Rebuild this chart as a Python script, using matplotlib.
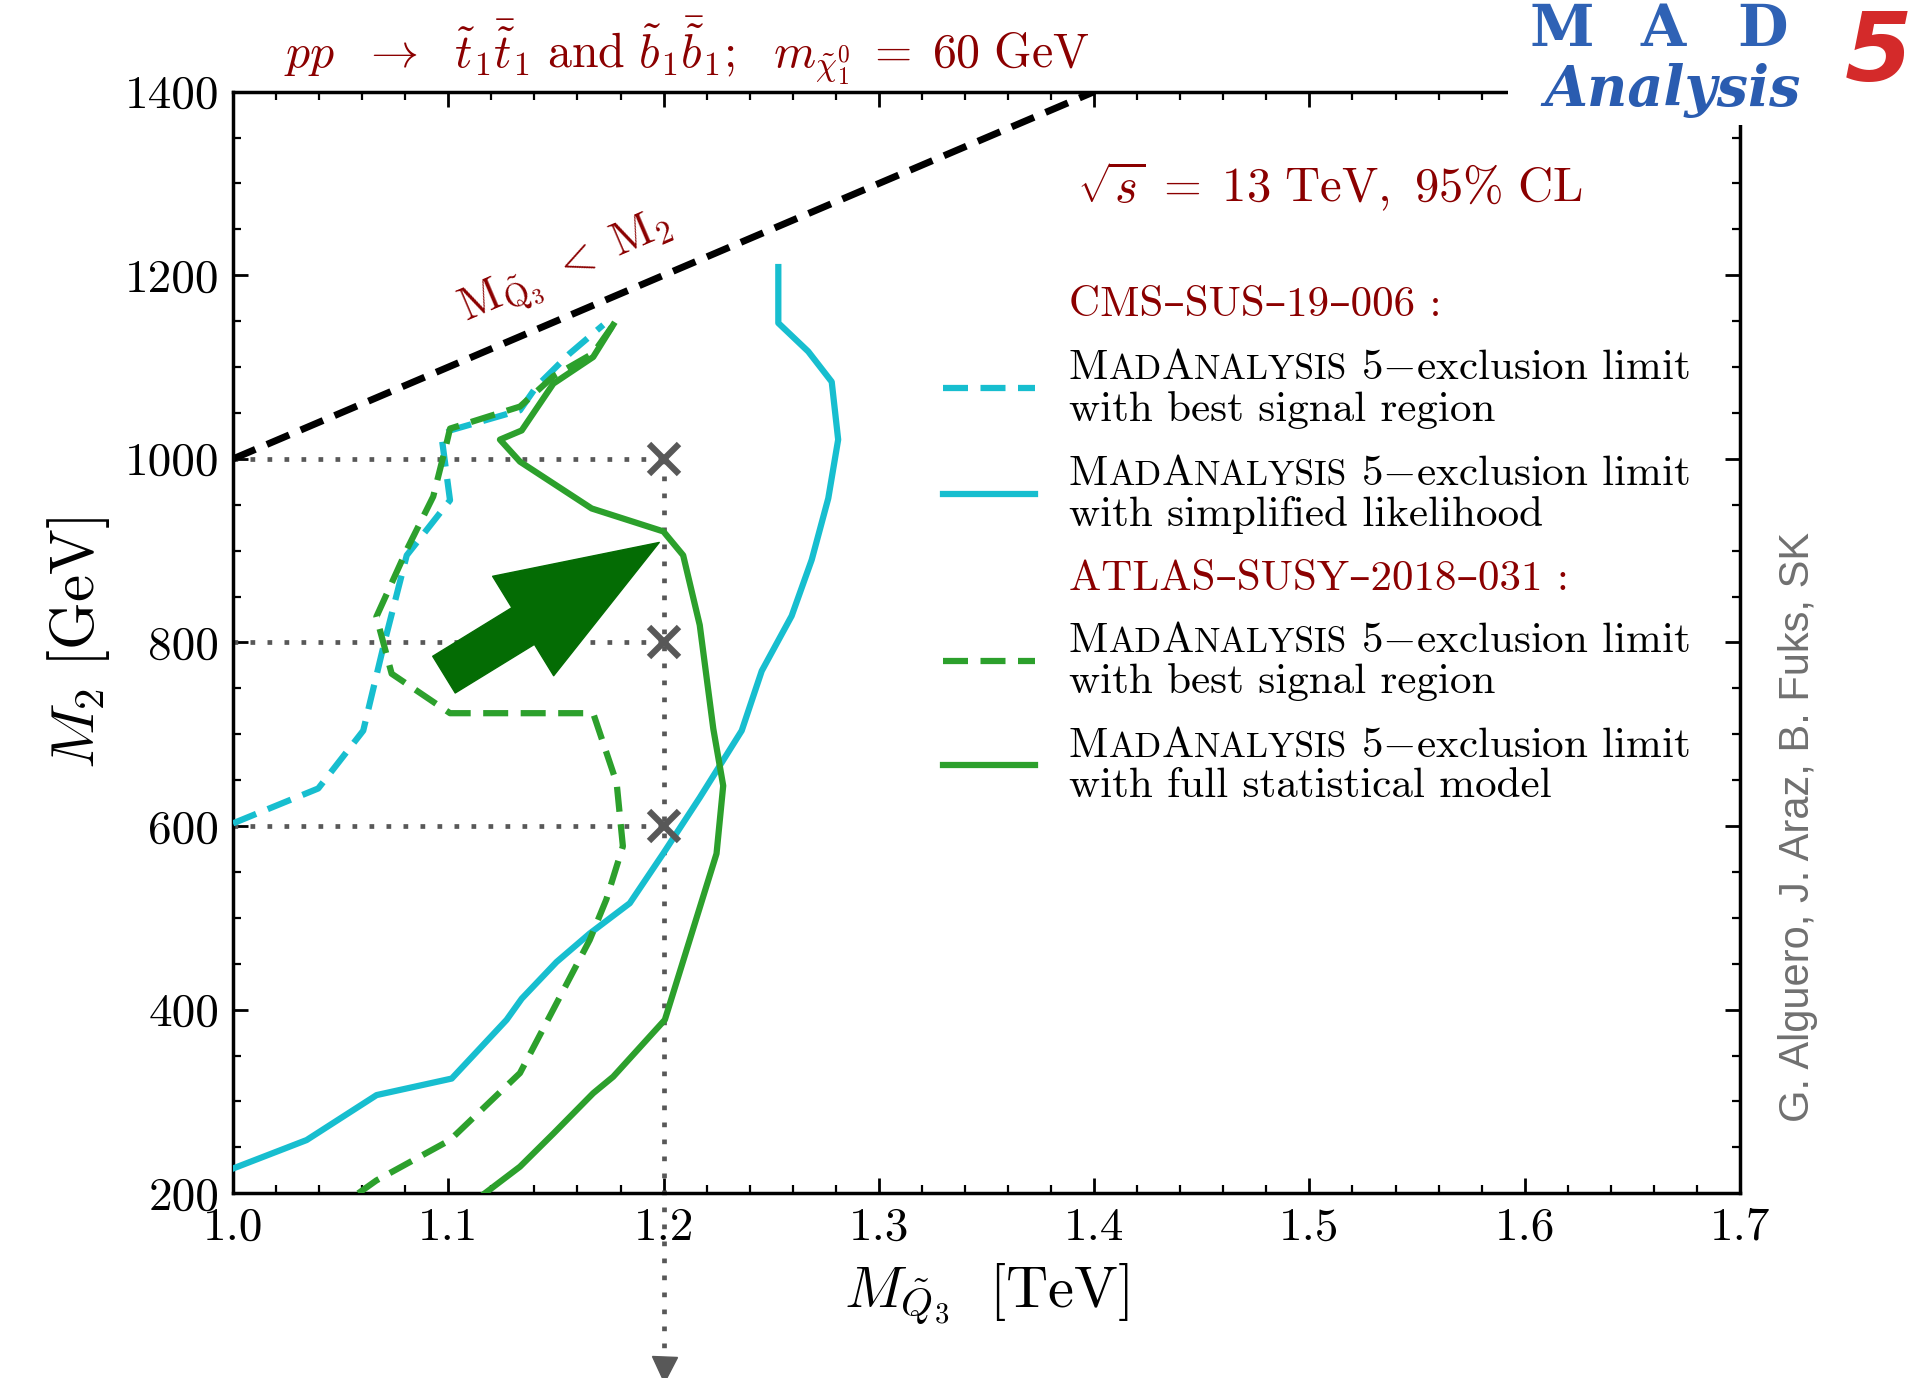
import matplotlib
matplotlib.use("Agg")
import matplotlib.pyplot as plt
from matplotlib.patches import FancyArrowPatch, Rectangle
from matplotlib.lines import Line2D
from matplotlib.ticker import FixedLocator, FixedFormatter, MultipleLocator
import math

plt.rcParams['font.family'] = ['cmr10', 'DejaVu Serif']
plt.rcParams['mathtext.fontset'] = 'cm'
plt.rcParams['axes.unicode_minus'] = False

# ---------------- data ----------------
cms_best_x = [1.000, 1.0396, 1.0605, 1.0698, 1.0807, 1.1008, 1.0969, 1.1008, 1.1333, 1.1410, 1.1565, 1.1720]
cms_best_y = [603, 641, 704, 795, 895, 955, 1024, 1031, 1053, 1079, 1115, 1146]

cms_sl_x = [1.000, 1.0342, 1.0667, 1.1016, 1.1271, 1.1341, 1.1503, 1.1657, 1.1843, 1.1998, 1.2168,
            1.2363, 1.2456, 1.2595, 1.2688, 1.2765, 1.2811, 1.2781, 1.2672, 1.2533, 1.2533]
cms_sl_y = [227, 258, 307, 325, 389, 412, 452, 483, 516, 570, 631,
            704, 769, 829, 890, 957, 1021, 1084, 1117, 1148, 1209]

atlas_best_x = [1.0582, 1.0666, 1.1008, 1.1333, 1.1657, 1.1734, 1.1811, 1.1782, 1.1673, 1.1008,
                1.0737, 1.0666, 1.0807, 1.0930, 1.0992, 1.1008, 1.1333, 1.1488, 1.1673, 1.1766]
atlas_best_y = [200, 214, 258, 331, 476, 520, 578, 647, 723, 723,
                766, 828, 901, 959, 1017, 1033, 1057, 1090, 1115, 1146]

atlas_full_x = [1.117, 1.1333, 1.1488, 1.1673, 1.1766, 1.2006, 1.2246, 1.2277, 1.2231, 1.2168,
                1.2091, 1.1999, 1.1666, 1.1333, 1.124, 1.1341, 1.1488, 1.1673, 1.1766]
atlas_full_y = [200, 229, 265, 309, 327, 389, 570, 644, 706, 819,
                895, 921, 946, 997, 1021, 1031, 1082, 1111, 1146]

diag_x = [1.0, 1.4]
diag_y = [1000, 1400]

bench_x = 1.2
bench_m2 = [600, 800, 1000]
bench_arrow_end = 22

arrow_tail = (1.098, 765)
arrow_tip = (1.198, 909)

xtick_vals = [1.0, 1.1, 1.2, 1.3, 1.4, 1.5, 1.6, 1.7]
xtick_labels = ['1.0', '1.1', '1.2', '1.3', '1.4', '1.5', '1.6', '1.7']
ytick_vals = [200, 400, 600, 800, 1000, 1200, 1400]
ytick_labels = ['200', '400', '600', '800', '1000', '1200', '1400']

title_text = (r'$pp\ \ \rightarrow\ \ \tilde{t}_1\bar{\tilde{t}}_1\ \mathrm{and}\ '
              r'\tilde{b}_1\bar{\tilde{b}}_1;\ \ m_{\tilde{\chi}_1^0}\;=\;60\ \mathrm{GeV}$')
energy_text = r'$\sqrt{s}\;=\;13\ \mathrm{TeV},\ 95\%\ \mathrm{CL}$'
diag_text = r'$\mathrm{M}_{\tilde{\mathrm{Q}}_3}\ <\ \mathrm{M}_2$'
credit_text = 'G. Alguero, J. Araz, B. Fuks, SK'
header_cms = 'CMS–SUS–19–006 :'
header_atlas = 'ATLAS–SUSY–2018–031 :'
line2_labels = ['with best signal region', 'with simplified likelihood',
                'with best signal region', 'with full statistical model']

DARKRED = '#8b0000'
CYAN = '#17becf'
GREEN = '#2ca02c'
GRAY = '#585858'
ARROWGREEN = '#046c04'

W, H = 1920, 1378
fig = plt.figure(figsize=(W / 100, H / 100), dpi=100)
ax = fig.add_axes([233 / W, 1 - 1193.3 / H, (1740 - 233) / W, (1193.3 - 91.7) / H])
ax.set_xlim(1.0, 1.7)
ax.set_ylim(200, 1400)

ax.xaxis.set_major_locator(FixedLocator(xtick_vals))
ax.xaxis.set_major_formatter(FixedFormatter(xtick_labels))
ax.yaxis.set_major_locator(FixedLocator(ytick_vals))
ax.yaxis.set_major_formatter(FixedFormatter(ytick_labels))
ax.xaxis.set_minor_locator(MultipleLocator(0.02))
ax.yaxis.set_minor_locator(MultipleLocator(50))
ax.tick_params(which='both', direction='in', top=True, right=True)
ax.tick_params(which='major', length=11, width=2, labelsize=34, pad=10)
ax.tick_params(which='minor', length=6, width=1.6)
for s in ax.spines.values():
    s.set_linewidth(2.5)

# guide lines
DOT = (0, (1, 2.6))
for m in bench_m2:
    ax.plot([diag_x[0], bench_x], [m, m], color=GRAY, lw=3.4, ls=DOT, zorder=2)
ax.plot([bench_x, bench_x], [max(bench_m2), bench_arrow_end], color=GRAY, lw=3.4,
        ls=DOT, clip_on=False, zorder=2)
ax.plot([bench_x], [bench_arrow_end - 13], marker='v', ms=18, color=GRAY, clip_on=False,
        ls='none', zorder=2)

# diagonal
ax.plot(diag_x, diag_y, color='black', lw=5, ls=(0, (3.5, 1.8)), zorder=3)

# curves
ax.plot(cms_best_x, cms_best_y, color=CYAN, lw=4.5, ls=(0, (4, 2)), zorder=4)
ax.plot(cms_sl_x, cms_sl_y, color=CYAN, lw=4.5, zorder=4)
ax.plot(atlas_best_x, atlas_best_y, color=GREEN, lw=4.5, ls=(0, (4, 2)), zorder=4)
ax.plot(atlas_full_x, atlas_full_y, color=GREEN, lw=4.5, zorder=4)

# benchmark crosses
ax.plot([bench_x] * len(bench_m2), bench_m2, ls='none', marker='x', ms=21, mew=4.5,
        color=GRAY, zorder=5)

# big arrow
arr = FancyArrowPatch(arrow_tail, arrow_tip,
                      arrowstyle='simple,head_length=115,head_width=84,tail_width=31',
                      mutation_scale=1, color=ARROWGREEN, shrinkA=0, shrinkB=0, zorder=3.5)
ax.add_patch(arr)

# diagonal label
p1 = ax.transData.transform((diag_x[0], diag_y[0]))
p2 = ax.transData.transform((diag_x[1], diag_y[1]))
ang = math.degrees(math.atan2(p2[1] - p1[1], p2[0] - p1[0]))
ax.text(1.1547, 1207, diag_text, rotation=ang, rotation_mode='anchor', ha='center',
        va='center', color=DARKRED, fontsize=33)

# axis labels
ax.set_xlabel(r'$M_{\tilde{Q}_3}\ \ [\mathrm{TeV}]$', fontsize=42)
ax.xaxis.set_label_coords(0.5, (1193.3 - 1262) / 1101.6)
ax.set_ylabel(r'$M_2\ [\mathrm{GeV}]$', fontsize=44)
ax.yaxis.set_label_coords((112 - 233) / 1507, 0.5)

# texts
fig.text(687 / W, 1 - 51 / H, title_text, ha='center', va='center', fontsize=34.5, color=DARKRED)
fig.text(1077 / W, 1 - 187 / H, energy_text, ha='left', va='center', fontsize=35, color=DARKRED)
fig.text(1798 / W, 1 - 827 / H, credit_text, rotation=90, ha='center', va='center',
         fontsize=30, color='#707070', family='Liberation Sans')

# legend (manual)
LFS = 31
TX = 1069
renderer = fig.canvas.get_renderer()

def smallcaps_line(x_px, base_px, fs):
    pieces = [('M', 1.0), ('AD', 0.82), ('A', 1.0), ('NALYSIS', 0.82), (r' 5$-$exclusion limit', 1.0)]
    x = x_px
    for txt, sc in pieces:
        t = fig.text(x / W, 1 - base_px / H, txt, fontsize=fs * sc, ha='left', va='baseline')
        bb = t.get_window_extent(renderer)
        x = bb.x1

fig.text(TX / W, 1 - 316 / H, header_cms, fontsize=LFS, color=DARKRED, ha='left', va='baseline')
fig.text(TX / W, 1 - 589.5 / H, header_atlas, fontsize=LFS, color=DARKRED, ha='left', va='baseline')
first_bases = [379, 485, 652, 757]
second_bases = [421, 526.5, 693, 797]
handle_y = [388, 493.5, 661, 765]
handle_style = [(CYAN, (0, (4, 2))), (CYAN, '-'), (GREEN, (0, (4, 2))), (GREEN, '-')]
for b1, b2, lab, hy, (c, ls) in zip(first_bases, second_bases, line2_labels, handle_y, handle_style):
    smallcaps_line(TX, b1, LFS)
    fig.text(TX / W, 1 - b2 / H, lab, fontsize=LFS, ha='left', va='baseline')
    fig.add_artist(Line2D([943 / W, 1035 / W], [1 - hy / H, 1 - hy / H], color=c, lw=4.5, ls=ls,
                          transform=fig.transFigure))

# logo (text reconstruction)
fig.add_artist(Rectangle((1508 / W, 1 - 125 / H), (W - 1508) / W, 125 / H, transform=fig.transFigure,
                         facecolor='white', edgecolor='none', zorder=10))
for letter, cx in zip(['M', 'A', 'D'], [1562, 1663, 1763]):
    fig.text(cx / W, 1 - 30 / H, letter, fontsize=42, fontweight='bold', family='DejaVu Serif',
             color='#2f62b5', ha='center', va='center', zorder=11)
fig.text(1673 / W, 1 - 91 / H, 'Analysis', fontsize=40, fontweight='bold', fontstyle='italic',
         family='DejaVu Serif', color='#2a5cb0', ha='center', va='center', zorder=12)
fig.text(1879 / W, 1 - 54 / H, '5', fontsize=70, fontweight='bold', fontstyle='italic',
         family='DejaVu Sans', color='#d42a2a', ha='center', va='center', zorder=12)

fig.savefig('out.png', dpi=100)
